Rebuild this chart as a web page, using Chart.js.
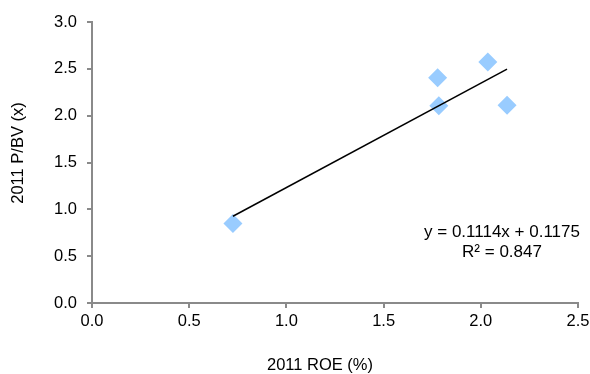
<!DOCTYPE html>
<html>
<head>
<meta charset="utf-8">
<script src="https://cdn.jsdelivr.net/npm/chart.js@4"></script>
<style>
  html, body { margin: 0; padding: 0; background: #fff; }
  #wrap { width: 590px; height: 374px; position: relative; }
</style>
</head>
<body>
<div id="wrap"><canvas id="roeChart"></canvas></div>
<script>
// data
const roeValues = [0.725, 1.778, 1.784, 2.036, 2.135];
const pbvValues = [0.848, 2.406, 2.107, 2.573, 2.110];
// regression line end points (from min x to max x)
const trendX = [0.725, 2.135];
const trendY = [0.926, 2.496];
const xTicks = [0, 0.5, 1.0, 1.5, 2.0, 2.5];
const yTicks = [0, 0.5, 1.0, 1.5, 2.0, 2.5, 3.0];
const equationText = 'y = 0.1114x + 0.1175';
const r2Text = 'R\u00b2 = 0.847';
const xTitle = '2011 ROE (%)';
const yTitle = '2011 P/BV (x)';

const axisGrey = '#8a8a8a';
const fontFamily = '"Liberation Sans", Arial, sans-serif';

const scatterPoints = roeValues.map((x, i) => ({ x: x, y: pbvValues[i] }));
const trendPoints = trendX.map((x, i) => ({ x: x, y: trendY[i] }));

// axis titles and the equation are drawn by hand so they sit where the original has them
const textPlugin = {
    id: 'textPlugin',
    afterDraw(chart) {
        const ctx = chart.ctx;
        ctx.save();
        ctx.fillStyle = '#000';
        ctx.font = '17px ' + fontFamily;
        ctx.textAlign = 'center';
        ctx.textBaseline = 'middle';
        ctx.fillText(equationText, 502, 232);
        ctx.fillText(r2Text, 502, 252);

        ctx.font = '16.5px ' + fontFamily;
        ctx.fillText(xTitle, 320, 365);
        ctx.translate(18, 153);
        ctx.rotate(-Math.PI / 2);
        ctx.fillText(yTitle, 0, 0);
        ctx.restore();
    }
};

const ctx = document.getElementById('roeChart').getContext('2d');
new Chart(ctx, {
    type: 'scatter',
    data: {
        datasets: [
            {
                label: 'Linear',
                data: trendPoints,
                showLine: true,
                borderColor: '#000',
                borderWidth: 1.5,
                pointRadius: 0,
                order: 0
            },
            {
                label: 'ROE vs P/BV',
                data: scatterPoints,
                pointStyle: 'rectRot',
                pointRadius: 9.5,
                backgroundColor: '#99ccff',
                borderColor: '#99ccff',
                borderWidth: 0,
                order: 1
            }
        ]
    },
    options: {
        responsive: true,
        maintainAspectRatio: false,
        animation: false,
        layout: { padding: { top: 22, right: 12, left: 0, bottom: 0 } },
        plugins: {
            legend: { display: false },
            tooltip: { enabled: false }
        },
        scales: {
            x: {
                type: 'linear',
                min: 0,
                max: 2.5,
                afterFit(scale) {
                    scale.height = 71;
                    // let the "2.5" label run off the edge like the original
                    scale.paddingRight = 0;
                    scale.paddingLeft = 0;
                },
                afterBuildTicks(scale) { scale.ticks = xTicks.map(v => ({ value: v })); },
                border: { color: axisGrey, width: 2 },
                grid: { drawOnChartArea: false, color: axisGrey, lineWidth: 2, tickLength: 5 },
                ticks: {
                    color: '#000',
                    font: { family: fontFamily, size: 16.5 },
                    padding: 4,
                    maxRotation: 0,
                    callback: v => Number(v).toFixed(1)
                }
            },
            y: {
                type: 'linear',
                min: 0,
                max: 3,
                afterFit(scale) {
                    scale.width = 92;
                    scale.paddingTop = 0;
                    scale.paddingBottom = 0;
                },
                afterBuildTicks(scale) { scale.ticks = yTicks.map(v => ({ value: v })); },
                border: { color: axisGrey, width: 2 },
                grid: { drawOnChartArea: false, color: axisGrey, lineWidth: 2, tickLength: 5 },
                ticks: {
                    color: '#000',
                    font: { family: fontFamily, size: 16.5 },
                    padding: 10,
                    callback: v => Number(v).toFixed(1)
                }
            }
        }
    },
    plugins: [textPlugin]
});
</script>
</body>
</html>
